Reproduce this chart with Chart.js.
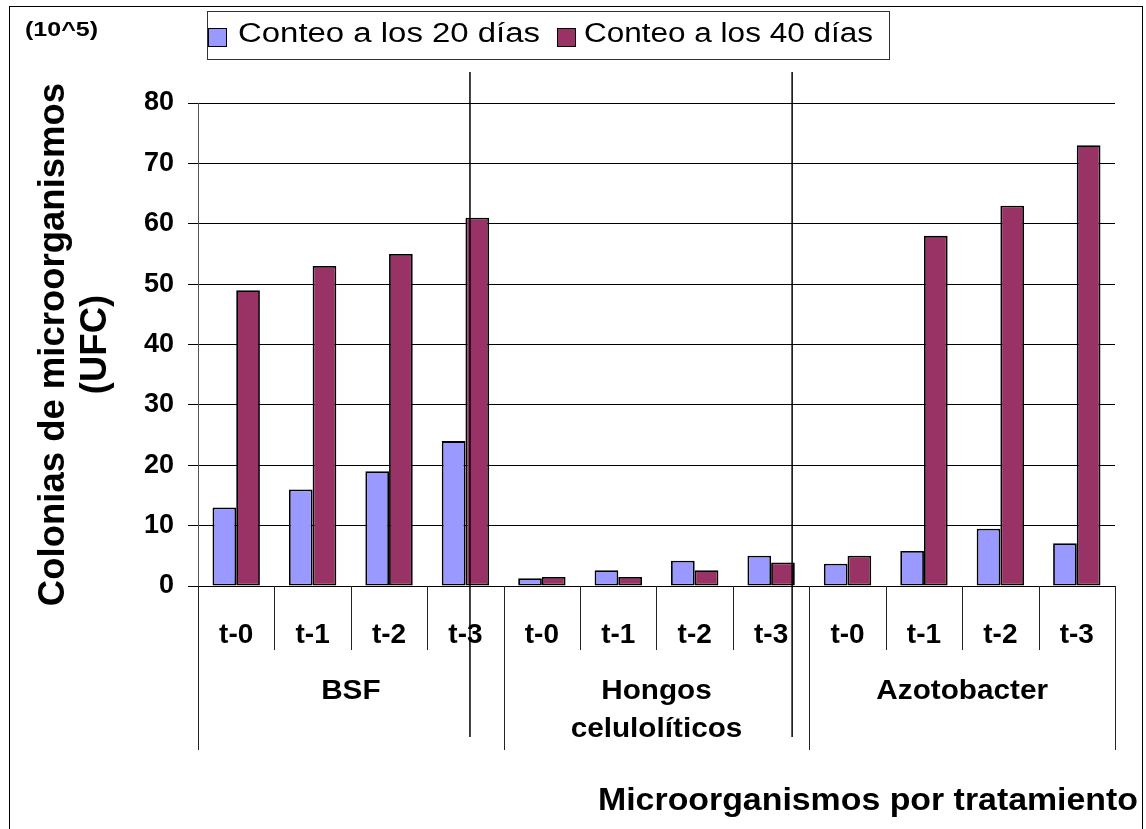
<!DOCTYPE html>
<html>
<head>
<meta charset="utf-8">
<script src="https://cdn.jsdelivr.net/npm/chart.js@4.4.1/dist/chart.umd.min.js"></script>
<style>
  html, body { margin: 0; padding: 0; background: #fff; }
  canvas { display: block; }
</style>
</head>
<body>
<canvas id="chart" width="1146" height="829"></canvas>
<script>
// Data
const treatments = ['t-0', 't-1', 't-2', 't-3', 't-0', 't-1', 't-2', 't-3', 't-0', 't-1', 't-2', 't-3'];
const groups = [['BSF'], ['Hongos', 'celulolíticos'], ['Azotobacter']];
const count20 = [13, 16, 19, 24, 1.3, 2.6, 4.2, 5.0, 3.7, 5.8, 9.5, 7.1];
const count40 = [49, 53, 55, 61, 1.5, 1.5, 2.6, 3.9, 5.0, 58, 63, 73];
const seriesNames = ['Conteo a los 20 días', 'Conteo a los 40 días'];
const seriesColors = ['#9999FF', '#993366'];

const FONT = "'Liberation Sans', Arial, sans-serif";

// draw text squeezed/stretched to a target width (Excel export looks wide)
function fitText(ctx, text, x, y, width, align) {
    const w = ctx.measureText(text).width;
    const sx = width / w;
    ctx.save();
    ctx.translate(x, y);
    ctx.scale(sx, 1);
    ctx.textAlign = align;
    ctx.fillText(text, 0, 0);
    ctx.restore();
}

// Extra drawing: frame, legend, group labels, separators, titles
const decorations = {
    id: 'decorations',
    afterDraw(chart) {
        const ctx = chart.ctx;
        const x = chart.scales.x;
        const area = chart.chartArea;
        const half = (x.getPixelForValue(1) - x.getPixelForValue(0)) / 2;
        const edge = i => i < treatments.length ? x.getPixelForValue(i) - half : x.getPixelForValue(i - 1) + half;

        ctx.save();
        ctx.strokeStyle = '#000';
        ctx.lineWidth = 1;

        // outer frame
        ctx.strokeRect(9.5, 6.5, 1133, 840);

        // category dividers below the axis
        for (let i = 0; i <= treatments.length; i++) {
            const px = Math.round(edge(i)) + 0.5;
            ctx.strokeStyle = '#222';
            ctx.beginPath();
            ctx.moveTo(px, area.bottom);
            ctx.lineTo(px, i % 4 === 0 ? area.bottom + 164 : area.bottom + 64);
            ctx.stroke();
        }

        // group labels
        ctx.fillStyle = '#000';
        ctx.font = 'bold 27px ' + FONT;
        ctx.textBaseline = 'middle';
        groups.forEach((lines, g) => {
            const cx = (edge(g * 4) + edge(g * 4 + 4)) / 2;
            lines.forEach((line, k) => {
                const w = ctx.measureText(line).width * 1.1;
                fitText(ctx, line, cx, area.bottom + 106 + k * 38, w, 'center');
            });
        });

        // hand drawn separators
        ctx.strokeStyle = '#000';
        ctx.lineWidth = 1.5;
        [x.getPixelForValue(3) + 4.5, x.getPixelForValue(7) + 21].forEach(px => {
            ctx.beginPath();
            ctx.moveTo(px, 72);
            ctx.lineTo(px, 737);
            ctx.stroke();
        });

        // legend
        ctx.lineWidth = 1;
        ctx.strokeStyle = '#333';
        ctx.strokeRect(207.5, 11.5, 682, 48);
        ctx.font = '27px ' + FONT;
        const items = [{ sw: 208.5, tx: 238, tw: 302 }, { sw: 557.5, tx: 584, tw: 289 }];
        items.forEach((it, i) => {
            ctx.fillStyle = seriesColors[i];
            ctx.fillRect(it.sw, 28.5, 18, 18);
            ctx.strokeStyle = '#000';
            ctx.strokeRect(it.sw, 28.5, 18, 18);
            ctx.fillStyle = '#000';
            fitText(ctx, seriesNames[i], it.tx, 35, it.tw, 'left');
        });

        // units
        ctx.font = 'bold 21px ' + FONT;
        fitText(ctx, '(10^5)', 25, 30, 73, 'left');

        // x title
        ctx.font = 'bold 31px ' + FONT;
        fitText(ctx, 'Microorganismos por tratamiento', 1138, 801, 540, 'right');

        ctx.restore();
    }
};

new Chart(document.getElementById('chart'), {
    type: 'bar',
    data: {
        labels: treatments,
        datasets: [
            {
                label: seriesNames[0],
                data: count20,
                backgroundColor: seriesColors[0],
                borderColor: '#000',
                borderWidth: 1.8,
                borderSkipped: false
            },
            {
                label: seriesNames[1],
                data: count40,
                backgroundColor: seriesColors[1],
                borderColor: '#000',
                borderWidth: 1.8,
                borderSkipped: false
            }
        ]
    },
    options: {
        responsive: false,
        animation: false,
        layout: { padding: { top: 103, right: 31, left: 0, bottom: 0 } },
        datasets: { bar: { barPercentage: 1, categoryPercentage: 0.62 } },
        plugins: {
            legend: { display: false },
            tooltip: { enabled: false }
        },
        scales: {
            x: {
                offset: true,
                grid: { display: false, drawTicks: false },
                border: { display: true, color: '#000', width: 1 },
                ticks: {
                    color: '#000',
                    padding: 32,
                    font: { family: FONT, size: 28, weight: 'bold' }
                },
                afterFit: s => { s.height = 243; }
            },
            y: {
                min: 0,
                max: 80,
                ticks: {
                    stepSize: 10,
                    color: '#000',
                    padding: 14,
                    font: { family: FONT, size: 27, weight: 'bold' }
                },
                grid: { color: '#000', lineWidth: 1, tickLength: 10, drawOnChartArea: true },
                border: { display: true, color: '#555', width: 1 },
                title: {
                    display: true,
                    text: ['Colonias de microorganismos', '(UFC)'],
                    color: '#000',
                    font: { family: FONT, size: 36.5, weight: 'bold', lineHeight: 1.15 },
                    padding: { top: 33, bottom: 0 }
                },
                afterFit: s => { s.width = 198; }
            }
        }
    },
    plugins: [decorations]
});
</script>
</body>
</html>
